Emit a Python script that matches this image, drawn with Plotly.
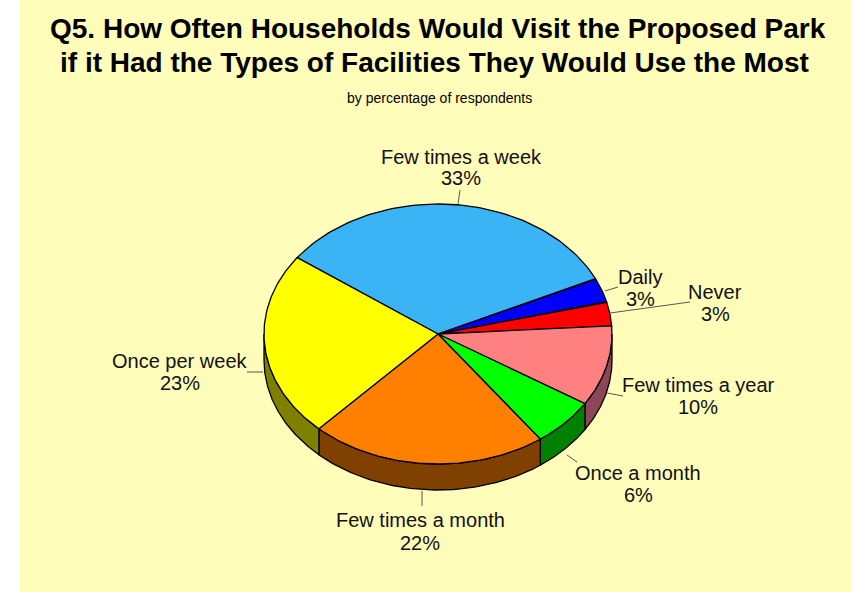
import numpy as np
import plotly.graph_objects as go

# ---- data ----
categories = ["Few times a week", "Daily", "Never", "Few times a year",
              "Once a month", "Few times a month", "Once per week"]
percentages = [33, 3, 3, 10, 6, 22, 23]

# ---- styles ----
top_colors = ["#3AB4F5", "#0000FF", "#FF0000", "#FF8080", "#00FF00", "#FF8000", "#FFFF00"]
side_colors = ["#1D5A7A", "#000080", "#800000", "#8B4758", "#008000", "#804000", "#808000"]
# (x centre, y of name line, y of percent line)
label_pos = {
    "Few times a week": (461, 157, 178),
    "Daily": (640, 277, 299),
    "Never": (715, 292, 314),
    "Few times a year": (698, 385, 407),
    "Once a month": (638, 473, 495),
    "Few times a month": (420, 520, 543),
    "Once per week": (180, 361, 383),
}
leaders = {
    "Few times a week": ((460, 190), (458, 204)),
    "Daily": ((605, 291), (618, 287)),
    "Never": ((610, 313), (690, 302)),
    "Few times a year": ((607, 393), (623, 396)),
    "Once a month": ((567, 455), (577, 462)),
    "Few times a month": ((422, 491), (422, 506)),
    "Once per week": ((247, 372), (263, 372)),
}

W, H = 859, 592
CX, CY, RX, RY, DEPTH = 438, 334, 174, 130, 26
START = 144.0
BG = "#FFFDB9"
FONT = "Liberation Sans, Arial"


def arc(t0, t1, n=80):
    ts = np.radians(np.linspace(t0, t1, n))
    return CX + RX * np.cos(ts), CY - RY * np.sin(ts)


# slice angular ranges (clockwise from START)
spans = []
a = START
for p in percentages:
    b = a - 360.0 * p / 100.0
    spans.append((a, b))
    a = b

fig = go.Figure()

# sides (front half only: angles in [-180, 0])
for (hi, lo), col in zip(spans, side_colors):
    s_hi = min(hi, 0.0)
    s_lo = max(lo, -180.0)
    if s_hi <= s_lo:
        continue
    xt, yt = arc(s_hi, s_lo)
    xs = np.concatenate([xt, xt[::-1], xt[:1]])
    ys = np.concatenate([yt, yt[::-1] + DEPTH, yt[:1]])
    fig.add_trace(go.Scatter(x=xs, y=ys, mode="lines", fill="toself",
                             fillcolor=col, line=dict(color="black", width=1.3),
                             hoverinfo="skip", showlegend=False))

# top faces
for (hi, lo), col, name in zip(spans, top_colors, categories):
    xt, yt = arc(hi, lo)
    xs = np.concatenate([[CX], xt, [CX]])
    ys = np.concatenate([[CY], yt, [CY]])
    fig.add_trace(go.Scatter(x=xs, y=ys, mode="lines", fill="toself",
                             fillcolor=col, line=dict(color="black", width=1.3),
                             name=name, hoverinfo="skip", showlegend=False))

annotations = [
    dict(x=438, y=28, text="<b>Q5. How Often Households Would Visit the Proposed Park</b>",
         font=dict(family=FONT, size=28, color="black")),
    dict(x=434, y=62, text="<b>if it Had the Types of Facilities They Would Use the Most</b>",
         font=dict(family=FONT, size=28, color="black")),
    dict(x=439, y=98, text="by percentage of respondents",
         font=dict(family=FONT, size=14, color="black")),
]
shapes = [dict(type="rect", xref="x", yref="y", x0=20, x1=851, y0=0, y1=H,
               fillcolor=BG, line=dict(width=0), layer="below")]

for name, p in zip(categories, percentages):
    x, y1, y2 = label_pos[name]
    annotations.append(dict(x=x, y=y1, text=name,
                            font=dict(family=FONT, size=20, color="#111111")))
    annotations.append(dict(x=x, y=y2, text=f"{p}%",
                            font=dict(family=FONT, size=20, color="#111111")))
    (x0, y0), (x1, yy1) = leaders[name]
    shapes.append(dict(type="line", xref="x", yref="y", x0=x0, y0=y0, x1=x1, y1=yy1,
                       line=dict(color="#555555", width=1)))

for an in annotations:
    an.update(xref="x", yref="y", showarrow=False, xanchor="center", yanchor="middle")

fig.update_layout(
    width=W, height=H,
    margin=dict(l=0, r=0, t=0, b=0),
    paper_bgcolor="white", plot_bgcolor="white",
    xaxis=dict(range=[0, W], visible=False, fixedrange=True),
    yaxis=dict(range=[H, 0], visible=False, fixedrange=True),
    annotations=annotations, shapes=shapes,
    showlegend=False,
)

fig.write_html("out.html")
